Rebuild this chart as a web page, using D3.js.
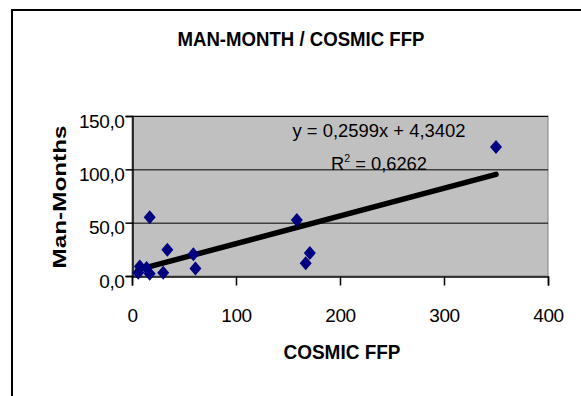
<!DOCTYPE html>
<html>
<head>
<meta charset="utf-8">
<script src="https://cdn.jsdelivr.net/npm/d3@7"></script>
<style>
  body { margin: 0; background: #fff; }
  text { font-family: "Liberation Sans", Arial, sans-serif; fill: #000; }
</style>
</head>
<body>
<script>
//chart data
var ffp = [350, 158.5, 17, 34, 59, 61, 171, 167, 30, 7.5, 14, 17, 6];
var manMonths = [121, 52.5, 55, 24.5, 20.5, 7, 21.5, 12, 3, 9, 7.5, 2, 3];
var xTicks = [0, 100, 200, 300, 400];
var yTicks = [0, 50, 100, 150];
var trend = { slope: 0.2599, intercept: 4.3402 }; //excel linear trendline
var eqLabel = "y = 0,2599x + 4,3402";
var r2Label = "0,6262";

var width = 581, height = 396;

var svg = d3.select("body").append("svg")
            .attr("width", width)
            .attr("height", height);

//outer chart frame (runs off the right and bottom edge)
svg.append("rect")
   .attr("x", 12).attr("y", 10)
   .attr("width", 620).attr("height", 420)
   .attr("fill", "#fff")
   .attr("stroke", "#000")
   .attr("stroke-width", 2);

//plot area
var plot = { left: 132, top: 116, right: 548, bottom: 276 };

var x = d3.scaleLinear().domain([0, 400]).range([plot.left, plot.right]);
var y = d3.scaleLinear().domain([0, 150]).range([plot.bottom, plot.top]);

svg.append("rect")
   .attr("x", plot.left).attr("y", plot.top)
   .attr("width", plot.right - plot.left)
   .attr("height", plot.bottom - plot.top)
   .attr("fill", "#c0c0c0")
   .attr("stroke", "#808080")
   .attr("stroke-width", 1);

//horizontal gridlines
svg.selectAll(".grid")
   .data(yTicks.filter(function(d) { return d > 0; }))
   .enter().append("line")
   .attr("class", "grid")
   .attr("x1", plot.left).attr("x2", plot.right)
   .attr("y1", function(d) { return y(d) + 0.5; })
   .attr("y2", function(d) { return y(d) + 0.5; })
   .attr("stroke", "#000")
   .attr("stroke-width", 1);

//axes
var fmt = function(d) { return d3.format(".1f")(d).replace(".", ","); };

var yAxis = svg.append("g")
   .attr("transform", "translate(" + (plot.left + 0.5) + ",0)")
   .call(d3.axisLeft(y).tickValues(yTicks).tickSize(7).tickPadding(1).tickFormat(fmt));

var xAxis = svg.append("g")
   .attr("transform", "translate(0," + (plot.bottom + 0.5) + ")")
   .call(d3.axisBottom(x).tickValues(xTicks).tickSize(9).tickFormat(d3.format("d")));

[xAxis, yAxis].forEach(function(a) {
  a.select(".domain").attr("stroke", "#000").attr("stroke-width", 1.5);
  a.selectAll(".tick line").attr("stroke", "#000").attr("stroke-width", 1.5);
  a.selectAll("text")
   .attr("font-family", "Liberation Sans, Arial, sans-serif")
   .attr("font-size", 19)
   .attr("letter-spacing", -0.4)
   .attr("fill", "#000");
});
yAxis.selectAll("text").attr("dy", 11);
xAxis.selectAll("text").attr("y", 45).attr("dy", 0);

//trendline across the data range
var xr = d3.extent(ffp);
svg.append("line")
   .attr("x1", x(xr[0])).attr("y1", y(trend.slope * xr[0] + trend.intercept))
   .attr("x2", x(xr[1])).attr("y2", y(trend.slope * xr[1] + trend.intercept))
   .attr("stroke", "#000")
   .attr("stroke-width", 5.5)
   .attr("stroke-linecap", "round");

//diamond markers
var pts = ffp.map(function(d, i) { return [d, manMonths[i]]; });
svg.selectAll(".pt")
   .data(pts)
   .enter().append("path")
   .attr("class", "pt")
   .attr("d", function(d) {
     var cx = x(d[0]), cy = y(d[1]);
     return "M" + cx + "," + (cy - 7) + "L" + (cx + 6) + "," + cy +
            "L" + cx + "," + (cy + 7) + "L" + (cx - 6) + "," + cy + "Z";
   })
   .attr("fill", "#000080");

//trendline labels
svg.append("text")
   .attr("x", 379).attr("y", 137)
   .attr("text-anchor", "middle")
   .attr("font-size", 19)
   .attr("textLength", 173).attr("lengthAdjust", "spacingAndGlyphs")
   .text(eqLabel);

var r2 = svg.append("text")
   .attr("x", 379).attr("y", 170)
   .attr("text-anchor", "middle")
   .attr("font-size", 19)
   .attr("textLength", 96).attr("lengthAdjust", "spacingAndGlyphs");
r2.append("tspan").text("R");
r2.append("tspan").attr("font-size", 11).attr("dy", -8).text("2");
r2.append("tspan").attr("dy", 8).text(" = " + r2Label);

//titles
svg.append("text")
   .attr("x", 301).attr("y", 46)
   .attr("text-anchor", "middle")
   .attr("font-size", 19.5).attr("font-weight", "bold")
   .attr("textLength", 247).attr("lengthAdjust", "spacingAndGlyphs")
   .text("MAN-MONTH / COSMIC FFP");

svg.append("text")
   .attr("x", 342).attr("y", 359)
   .attr("text-anchor", "middle")
   .attr("font-size", 20.5).attr("font-weight", "bold")
   .attr("textLength", 117).attr("lengthAdjust", "spacingAndGlyphs")
   .text("COSMIC FFP");

svg.append("text")
   .attr("transform", "translate(66,197) rotate(-90)")
   .attr("text-anchor", "middle")
   .attr("font-size", 18.5).attr("font-weight", "bold")
   .attr("textLength", 143).attr("lengthAdjust", "spacingAndGlyphs")
   .text("Man-Months");
</script>
</body>
</html>
